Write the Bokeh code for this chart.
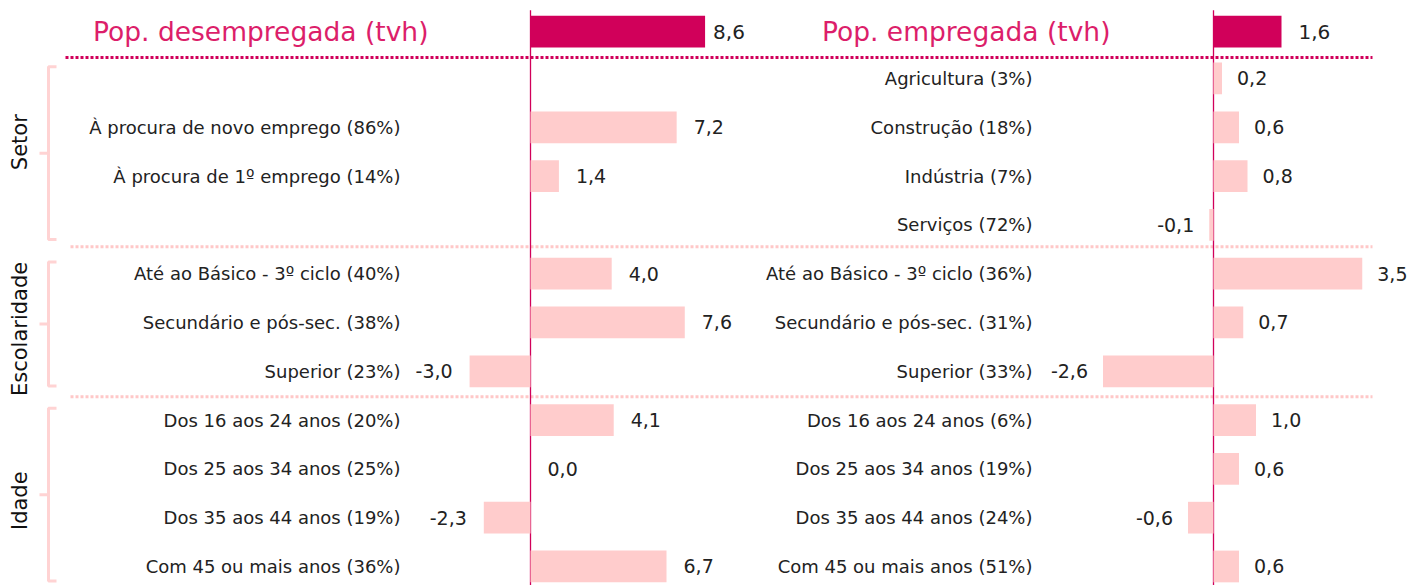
import math
from bokeh.plotting import figure
from bokeh.models import Range1d, ColumnDataSource
from bokeh.core.properties import value
from bokeh.embed import file_html
from bokeh.resources import INLINE

# ---------------- data ----------------
header_titles = ["Pop. desempregada (tvh)", "Pop. empregada (tvh)"]
header_values = [8.6, 1.6]

unemp_labels = ["À procura de novo emprego (86%)", "À procura de 1º emprego (14%)",
                "Até ao Básico - 3º ciclo (40%)", "Secundário e pós-sec. (38%)", "Superior (23%)",
                "Dos 16 aos 24 anos (20%)", "Dos 25 aos 34 anos (25%)",
                "Dos 35 aos 44 anos (19%)", "Com 45 ou mais anos (36%)"]
unemp_values = [7.2, 1.4, 4.0, 7.6, -3.0, 4.1, 0.0, -2.3, 6.7]
unemp_rows = [2, 3, 5, 6, 7, 8, 9, 10, 11]

emp_labels = ["Agricultura (3%)", "Construção (18%)", "Indústria (7%)", "Serviços (72%)",
              "Até ao Básico - 3º ciclo (36%)", "Secundário e pós-sec. (31%)", "Superior (33%)",
              "Dos 16 aos 24 anos (6%)", "Dos 25 aos 34 anos (19%)",
              "Dos 35 aos 44 anos (24%)", "Com 45 ou mais anos (51%)"]
emp_values = [0.2, 0.6, 0.8, -0.1, 3.5, 0.7, -2.6, 1.0, 0.6, -0.6, 0.6]
emp_rows = [1, 2, 3, 4, 5, 6, 7, 8, 9, 10, 11]

group_names = ["Setor", "Escolaridade", "Idade"]
group_first_rows = [1, 5, 8]
group_last_rows = [4, 7, 11]

# ---------------- style ----------------
W, H = 1410, 585
DARK = "#d1005a"
LIGHT = "#ffcccc"
BRACKET = "#ffd3d3"
TITLE_C = "#dc1e6a"
TXT = "#222222"
FONT = "DejaVu Sans"
GROUP_LABEL_NUDGE = [-11, 5, 6]   # px, vertical fine-tuning of the rotated group labels

fmt = lambda v: f"{v:.1f}".replace(".", ",")

p = figure(width=W, height=H, output_backend="svg", toolbar_location=None,
           x_axis_location=None, y_axis_location=None, min_border=0,
           x_range=Range1d(0, W), y_range=Range1d(11.39, -0.598))
p.outline_line_color = None
p.grid.visible = False
p.background_fill_color = "white"
p.border_fill_color = "white"

# panel scales: left zero at 530px (20.3 px/unit), right zero at 1213px (42.5 px/unit)
p.extra_x_ranges = {
    "L": Range1d(-530 / 20.3, (W - 530) / 20.3),
    "R": Range1d(-1213 / 42.5, (W - 1213) / 42.5),
}

# separators (dotted)
p.segment(x0=[65], x1=[1372], y0=[0.57], y1=[0.57], line_color=DARK, line_width=3, line_dash="3 2")
p.segment(x0=[70, 70], x1=[1372, 1372], y0=[4.45, 7.52], y1=[4.45, 7.52],
          line_color="#ffc8c8", line_width=3, line_dash="3 2")

# brackets + group labels
for name, a, b, nudge in zip(group_names, group_first_rows, group_last_rows, GROUP_LABEL_NUDGE):
    top, bot = a - 0.24, b + 0.3
    mid = (top + bot) / 2
    p.multi_line(xs=[[56, 48, 48, 56], [48, 39]], ys=[[top, top, bot, bot], [mid, mid]],
                 line_color=BRACKET, line_width=3)
    p.text(x=[19], y=[mid], text=[name], angle=math.pi / 2, y_offset=nudge,
           text_align="center", text_baseline="middle", text_font=value(FONT),
           text_font_size="21px", text_color="#111111")

def panel(rng, hval, hval_off, labels, values, rows, lab_off, gap):
    # zero line
    p.segment(x0=[0], x1=[0], y0=[-0.4], y1=[11.6], line_color=DARK, line_width=1.3,
              x_range_name=rng)
    # header bar
    p.hbar(y=[0.04], left=[0], right=[hval], height=0.65, fill_color=DARK, line_color=None,
           x_range_name=rng)
    p.text(x=[hval], y=[0.04], text=[fmt(hval)], x_offset=hval_off, text_align="left",
           text_baseline="middle", text_font=value(FONT), text_font_size="20px",
           text_color=TXT, x_range_name=rng)
    src = ColumnDataSource(dict(
        y=rows, v=values, lab=labels, txt=[fmt(v) for v in values],
        align=["left" if v >= 0 else "right" for v in values],
        off=[gap if v >= 0 else -gap for v in values]))
    p.hbar(y="y", left=0, right="v", height=0.65, fill_color=LIGHT, line_color=None,
           source=src, x_range_name=rng)
    p.text(x="v", y="y", text="txt", x_offset="off", text_align="align",
           text_baseline="middle", text_font=value(FONT), text_font_size="19px",
           text_color=TXT, source=src, x_range_name=rng)
    p.text(x=0, y="y", text="lab", x_offset=lab_off, text_align="right",
           text_baseline="middle", text_font=value(FONT), text_font_size="18px",
           text_color=TXT, source=src, x_range_name=rng)
    return src

panel("L", header_values[0], 8, unemp_labels, unemp_values, unemp_rows, -130, 17)
panel("R", header_values[1], 17, emp_labels, emp_values, emp_rows, -181, 15)

# header titles
p.text(x=[0], y=[0.04], text=[header_titles[0]], x_offset=-102, text_align="right",
       text_baseline="middle", text_font=value(FONT), text_font_size="26.5px",
       text_color=TITLE_C, x_range_name="L")
p.text(x=[0], y=[0.04], text=[header_titles[1]], x_offset=-103, text_align="right",
       text_baseline="middle", text_font=value(FONT), text_font_size="26.5px",
       text_color=TITLE_C, x_range_name="R")

open("out.html", "w").write(file_html(p, INLINE))
